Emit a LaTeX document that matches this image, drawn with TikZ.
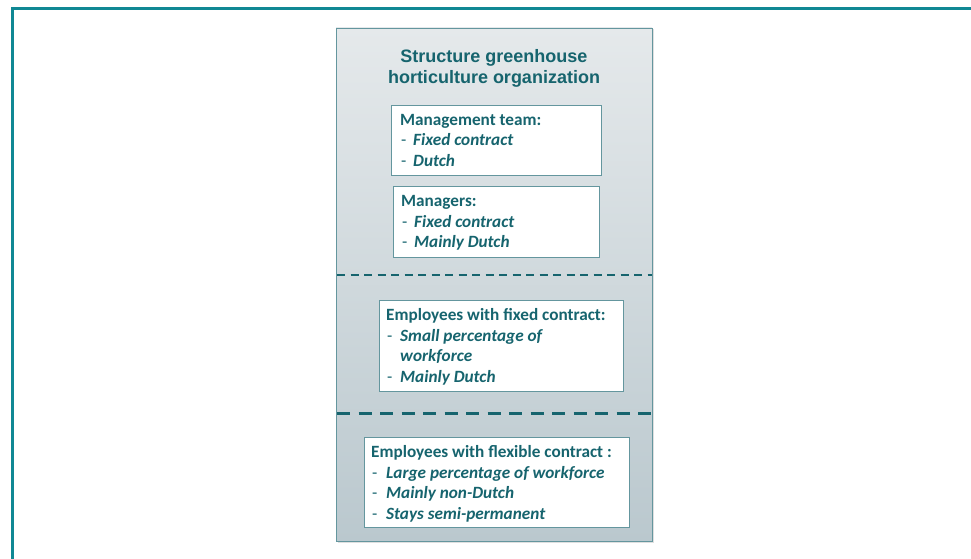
\documentclass[tikz,border=0pt]{standalone}
\usepackage{fontspec}
\setmainfont{Carlito}
\newfontfamily\titlefont{Liberation Sans}
\usetikzlibrary{shadows}
\definecolor{frameteal}{RGB}{16,136,148}
\definecolor{darkteal}{RGB}{22,100,110}
\definecolor{boxedge}{RGB}{100,150,158}
\definecolor{paneltop}{RGB}{229,233,235}
\definecolor{panelbot}{RGB}{186,200,206}
\tikzset{
  x=1pt, y=-1pt,
  panel/.style={draw=boxedge, line width=0.8pt, top color=paneltop, bottom color=panelbot,
    drop shadow={shadow xshift=1.5pt, shadow yshift=-1.5pt, opacity=0.25}},
  infobox/.style={draw=boxedge, line width=0.9pt, fill=white},
  head/.style={anchor=base west, inner sep=0pt, text=darkteal, font=\fontsize{17.2}{20}\selectfont\bfseries},
  item/.style={anchor=base west, inner sep=0pt, text=darkteal, font=\fontsize{17.2}{20}\selectfont\bfseries\itshape},
  dashitem/.style={anchor=base west, inner sep=0pt, text=darkteal, font=\fontsize{17.2}{20}\selectfont},
  thindash/.style={draw=darkteal, line width=1.8pt, dash pattern=on 8pt off 5.5pt},
  thickdash/.style={draw=darkteal, line width=3pt, dash pattern=on 13pt off 8.5pt},
  titletext/.style={text=darkteal, font=\titlefont\fontsize{18}{21}\selectfont\bfseries, align=center, inner sep=0pt},
}
\begin{document}
\begin{tikzpicture}
\useasboundingbox (0,0) rectangle (971,559);
\fill[white] (0,0) rectangle (971,559);
% outer frame
\draw[frameteal, line width=3pt] (12.5,8.5) rectangle (990,580);
% panel
\path[panel] (336,28) rectangle (652,541);
\node[titletext] (title) at (494,68) {Structure greenhouse\\horticulture organization};
% boxes
\path[infobox] (391.5,105) rectangle (601.5,175.5);
\node[head] (b1h) at (400,125.5) {Management team:};
\node[dashitem] (b1d1) at (401,146) {-};
\node[item] (b1i1) at (413,146) {Fixed contract};
\node[dashitem] (b1d2) at (401,166) {-};
\node[item] (b1i2) at (413,166) {Dutch};

\path[infobox] (393,186) rectangle (599.5,257);
\node[head] (b2h) at (401,206) {Managers:};
\node[dashitem] (b2d1) at (402,227) {-};
\node[item] (b2i1) at (414,227) {Fixed contract};
\node[dashitem] (b2d2) at (402,247) {-};
\node[item] (b2i2) at (414,247) {Mainly Dutch};

\coordinate (d1l) at (337,275);
\coordinate (d1r) at (652,275);
\draw[thindash] (d1l) -- (d1r);

\path[infobox] (379,300) rectangle (623,391);
\node[head] (b3h) at (386,320) {Employees with fixed contract:};
\node[dashitem] (b3d1) at (387,341) {-};
\node[item] (b3i1) at (400,341) {Small percentage of};
\node[item] (b3i1b) at (400,361) {workforce};
\node[dashitem] (b3d2) at (387,382) {-};
\node[item] (b3i2) at (400,382) {Mainly Dutch};

\coordinate (d2l) at (337,413);
\coordinate (d2r) at (652,413);
\draw[thickdash] (d2l) -- (d2r);

\path[infobox] (364,437) rectangle (629,527);
\node[head] (b4h) at (371,457) {Employees with flexible contract :};
\node[dashitem] (b4d1) at (372,478) {-};
\node[item] (b4i1) at (386,478) {Large percentage of workforce};
\node[dashitem] (b4d2) at (372,498) {-};
\node[item] (b4i2) at (386,498) {Mainly non-Dutch};
\node[dashitem] (b4d3) at (372,519) {-};
\node[item] (b4i3) at (386,519) {Stays semi-permanent};
\end{tikzpicture}
\end{document}
